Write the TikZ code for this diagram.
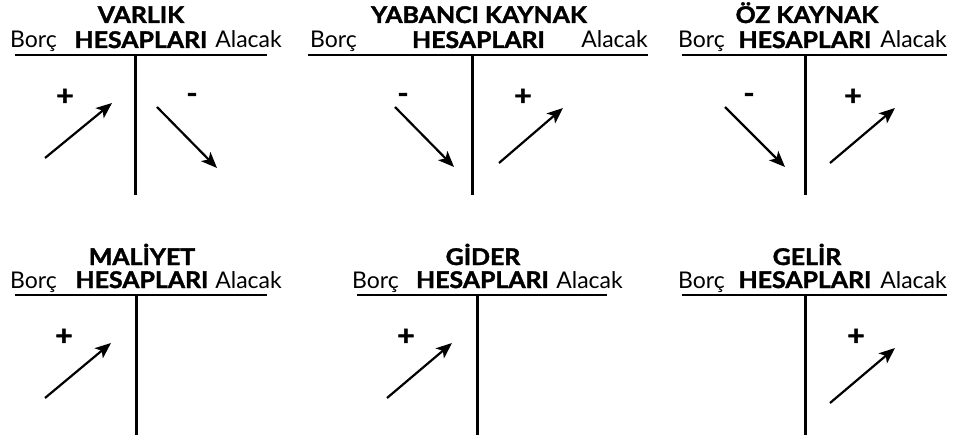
\documentclass[tikz,border=0pt]{standalone}
\usepackage{fontspec}
\setmainfont{Lato}[BoldFeatures={FakeStretch=1.08,FakeBold=1.6}]
\usetikzlibrary{arrows.meta}
\begin{document}
\begin{tikzpicture}[x=1pt,y=-1pt,
  lbl/.style={font=\fontsize{23}{26}\selectfont, inner sep=0pt},
  hd/.style={font=\fontsize{23}{26}\selectfont\bfseries, inner sep=0pt, anchor=base},
  sgn/.style={font=\fontsize{28}{30}\selectfont\bfseries, inner sep=0pt},
  hline/.style={line width=1.6pt},
  vline/.style={line width=3pt},
  arr/.style={line width=2.2pt, -{Stealth[length=16pt,width=13pt,inset=4pt]}}]
\useasboundingbox (0,0) rectangle (957,438);
% ---------- Panel 1: VARLIK
\node[hd] (t1) at (141,23) {VARLIK};
\node[lbl,anchor=base west] (b1) at (10,48) {Borç};
\node[hd] (h1) at (141,48) {HESAPLARI};
\node[lbl,anchor=base east] (a1) at (282,48) {Alacak};
\coordinate (l1a) at (15,55); \coordinate (l1b) at (267,55);
\draw[hline] (l1a) -- (l1b);
\coordinate (v1a) at (135,55); \coordinate (v1b) at (135,195);
\draw[vline] (v1a) -- (v1b);
\node[sgn] (p1) at (65,97) {+};
\node[sgn] (m1) at (192,98) {-};
\coordinate (r1s) at (45,158); \coordinate (r1e) at (112,103);
\draw[arr] (r1s) -- (r1e);
\coordinate (d1s) at (157,107); \coordinate (d1e) at (217,168);
\draw[arr] (d1s) -- (d1e);
% ---------- Panel 2: YABANCI KAYNAK
\node[hd] (t2) at (479,23) {YABANCI KAYNAK};
\node[lbl,anchor=base west] (b2) at (310,48) {Borç};
\node[hd] (h2) at (478.5,48) {HESAPLARI};
\node[lbl,anchor=base east] (a2) at (648,48) {Alacak};
\coordinate (l2a) at (308,55); \coordinate (l2b) at (648,55);
\draw[hline] (l2a) -- (l2b);
\coordinate (v2a) at (472,55); \coordinate (v2b) at (472,195);
\draw[vline] (v2a) -- (v2b);
\node[sgn] (m2) at (403,98) {-};
\node[sgn] (p2) at (523,97) {+};
\coordinate (d2s) at (395,107); \coordinate (d2e) at (454,167);
\draw[arr] (d2s) -- (d2e);
\coordinate (r2s) at (499,163); \coordinate (r2e) at (563,108);
\draw[arr] (r2s) -- (r2e);
% ---------- Panel 3: ÖZ KAYNAK
\node[hd] (t3) at (807,23) {ÖZ KAYNAK};
\node[lbl,anchor=base west] (b3) at (678,48) {Borç};
\node[hd] (h3) at (805,48) {HESAPLARI};
\node[lbl,anchor=base east] (a3) at (947,48) {Alacak};
\coordinate (l3a) at (682,55); \coordinate (l3b) at (947,55);
\draw[hline] (l3a) -- (l3b);
\coordinate (v3a) at (805,55); \coordinate (v3b) at (805,195);
\draw[vline] (v3a) -- (v3b);
\node[sgn] (m3) at (749,98) {-};
\node[sgn] (p3) at (853,97) {+};
\coordinate (d3s) at (725,107); \coordinate (d3e) at (785,167);
\draw[arr] (d3s) -- (d3e);
\coordinate (r3s) at (830,163); \coordinate (r3e) at (895,108);
\draw[arr] (r3s) -- (r3e);
% ---------- Panel 4: MALİYET
\node[hd] (t4) at (142,265) {MALİYET};
\node[lbl,anchor=base west] (b4) at (10,288) {Borç};
\node[hd] (h4) at (142,288) {HESAPLARI};
\node[lbl,anchor=base east] (a4) at (282,288) {Alacak};
\coordinate (l4a) at (15,295); \coordinate (l4b) at (267,295);
\draw[hline] (l4a) -- (l4b);
\coordinate (v4a) at (136,295); \coordinate (v4b) at (136,435);
\draw[vline] (v4a) -- (v4b);
\node[sgn] (p4) at (64,337) {+};
\coordinate (r4s) at (45,398); \coordinate (r4e) at (111,343);
\draw[arr] (r4s) -- (r4e);
% ---------- Panel 5: GİDER
\node[hd] (t5) at (483,265) {GİDER};
\node[lbl,anchor=base west] (b5) at (352,288) {Borç};
\node[hd] (h5) at (482.5,288) {HESAPLARI};
\node[lbl,anchor=base east] (a5) at (623,288) {Alacak};
\coordinate (l5a) at (357,295); \coordinate (l5b) at (607,295);
\draw[hline] (l5a) -- (l5b);
\coordinate (v5a) at (477,295); \coordinate (v5b) at (477,435);
\draw[vline] (v5a) -- (v5b);
\node[sgn] (p5) at (406,337) {+};
\coordinate (r5s) at (387,398); \coordinate (r5e) at (452,343);
\draw[arr] (r5s) -- (r5e);
% ---------- Panel 6: GELİR
\node[hd] (t6) at (807,265) {GELİR};
\node[lbl,anchor=base west] (b6) at (678,288) {Borç};
\node[hd] (h6) at (805,288) {HESAPLARI};
\node[lbl,anchor=base east] (a6) at (947,288) {Alacak};
\coordinate (l6a) at (682,295); \coordinate (l6b) at (947,295);
\draw[hline] (l6a) -- (l6b);
\coordinate (v6a) at (805,295); \coordinate (v6b) at (805,435);
\draw[vline] (v6a) -- (v6b);
\node[sgn] (p6) at (856,337) {+};
\coordinate (r6s) at (830,403); \coordinate (r6e) at (895,348);
\draw[arr] (r6s) -- (r6e);
\end{tikzpicture}
\end{document}
